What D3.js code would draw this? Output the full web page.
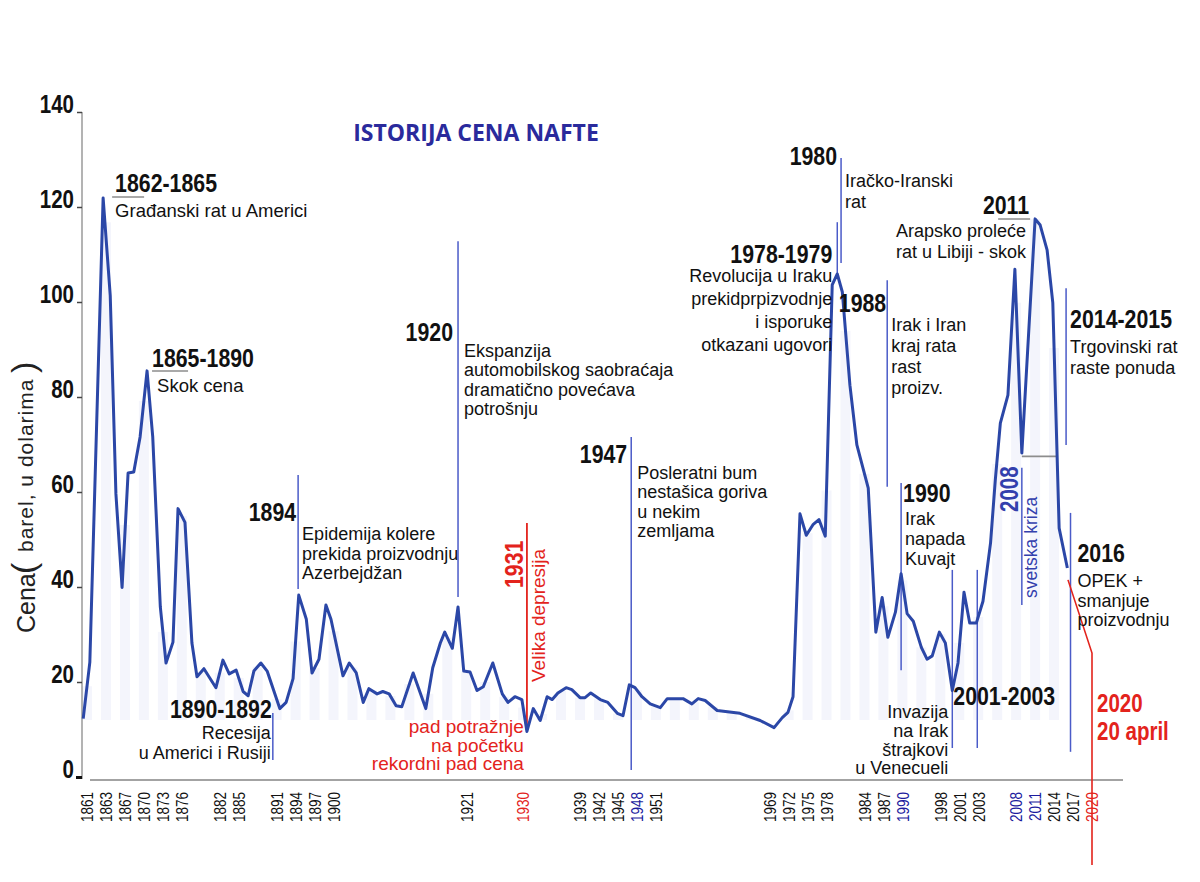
<!DOCTYPE html>
<html>
<head>
<meta charset="utf-8">
<title>Istorija cena nafte</title>
<script src="https://cdn.jsdelivr.net/npm/d3@7"></script>
<style>
  body { margin: 0; background: #fff; }
  svg { display: block; }
</style>
</head>
<body>
<div id="chart"></div>
<script>
// slots along the x axis (the axis is not linear in time)
var slotYears = [1861,1863,1867,1870,1873,1876,1879,1882,1885,1888,1891,1894,1897,1900,
  1903,1906,1909,1912,1915,1918,1921,1924,1927,1930,1933,1936,1939,1942,1945,1948,1951,
  1954,1957,1960,1963,1966,1969,1972,1975,1978,1981,1984,1987,1990,1994,1998,2001,2003,
  2005,2008,2011,2014,2017,2020];
var tickYears = [1861,1863,1867,1870,1873,1876,1882,1885,1891,1894,1897,1900,1921,1930,
  1939,1942,1945,1948,1951,1969,1972,1975,1978,1984,1987,1990,1998,2001,2003,2008,2011,
  2014,2017,2020];
var blueYears = [1948, 1990, 2008, 2011];
var redYears = [1930, 2020];
var yTicks = [0, 20, 40, 60, 80, 100, 120, 140];

// oil price (barel, u dolarima)
var priceYears = [
  1860.6,1861.3,1862.7,1863.9,1865.1,1866.4,1867.5,1868.4,1869.4,1870.5,
  1871.4,1872.6,1873.5,1874.6,1875.4,1876.5,1877.6,1878.4,1879.5,1881.4,
  1882.5,1883.5,1884.6,1885.7,1886.5,1887.4,1888.5,1889.5,1891.5,1892.5,
  1893.6,1894.5,1895.7,1896.6,1897.7,1898.8,1899.6,1901.5,1902.5,1903.6,
  1904.7,1905.6,1906.9,1907.8,1908.8,1909.9,1910.8,1912.6,1914.6,1915.7,
  1916.9,1917.6,1918.8,1919.7,1920.6,1921.6,1922.7,1923.7,1925.2,1926.7,
  1927.6,1928.7,1929.8,1930.6,1931.6,1932.7,1933.8,1934.6,1935.5,1936.8,
  1937.7,1939.0,1939.8,1940.7,1942.2,1943.4,1944.9,1945.8,1946.8,1947.7,
  1948.8,1950.1,1951.7,1952.8,1955.3,1956.7,1957.7,1958.8,1960.7,1964.3,
  1967.5,1969.7,1971.0,1971.9,1972.7,1973.8,1974.8,1975.9,1976.8,1977.8,
  1978.9,1979.7,1980.5,1981.7,1982.8,1984.6,1985.8,1986.8,1987.7,1988.9,
  1989.8,1991.0,1992.3,1994.0,1995.2,1996.3,1997.8,1998.8,1999.9,2000.8,
  2001.5,2002.1,2002.8,2003.5,2004.3,2004.8,2005.5,2006.7,2007.8,2008.9,
  2011.0,2011.8,2012.9,2013.8,2014.8,2016.1];
var prices = [
  12.3,24.2,121.9,101.4,59.6,39.9,64.0,64.2,71.6,85.5,
  71.6,35.8,24.0,28.4,56.5,53.6,28.2,21.1,22.8,18.8,
  24.6,21.7,22.5,18.0,17.1,22.3,24.0,22.3,14.4,15.7,
  20.7,38.3,33.2,21.9,24.8,36.2,33.2,21.3,24.0,21.9,
  15.7,18.6,17.5,18.0,17.5,15.0,14.8,21.9,14.4,23.0,
  28.2,30.5,27.1,35.8,22.3,22.1,18.2,19.0,24.0,17.5,
  15.7,16.9,16.3,9.6,14.4,11.9,16.9,16.3,17.7,18.8,
  18.4,16.7,16.7,17.7,16.3,15.7,13.4,12.9,19.4,18.8,
  16.9,15.4,14.6,16.5,16.5,15.4,16.5,16.1,14.0,13.4,
  11.9,10.4,12.5,13.6,16.9,55.4,50.9,53.2,54.2,50.7,
  103.6,105.9,102.1,82.5,69.9,60.8,30.5,37.8,29.4,34.7,
  42.8,34.4,32.8,27.3,24.8,25.5,30.5,28.2,18.2,24.0,
  38.9,32.4,32.4,37.0,49.3,62.5,74.5,80.4,106.9,68.2,
  117.5,116.2,110.9,99.8,52.4,44.0];

// 20 April 2020 collapse
var crashYears = [2016.2, 2020, 2020];
var crashPrices = [41.5, 26.1, -18.5];

// event markers: year, price top, price bottom
var blueEvents = [
  [1894.4, 63.6, 39.6], [1890.4, 13.5, 3.6], [1919.7, 112.8, 37.9], [1947.1, 71.6, 1.5],
  [1979.7, 116.8, 106.1], [1980.3, 130.3, 108.2], [1987.6, 104.6, 61.1], [1989.8, 61.9, 22.5],
  [1999.9, 43.6, 6.1], [2002.9, 43.6, 6.1], [2008.9, 65.1, 36.2], [2015.9, 102.9, 69.9],
  [2016.6, 55.6, 5.3]];
var redEvents = [[1930.6, 53.5, 9.7]];

var W = 1200, H = 882;
var BLUE = "#2b47a7", THIN = "#4a5bc8", NAVY = "#2a2a9c", RED = "#e3231c";

function hasFont(name) {
  var c = document.createElement("canvas").getContext("2d");
  c.font = "40px monospace";
  var a = c.measureText("1234567890 abcdefgh").width;
  c.font = "40px '" + name + "', monospace";
  var b = c.measureText("1234567890 abcdefgh").width;
  return a !== b;
}
var NARROW = hasFont("Liberation Sans Narrow");
var sx = NARROW ? 1 : 0.82;
var narrowFam = NARROW ? "'Liberation Sans Narrow', sans-serif" : "'Liberation Sans', Arial, sans-serif";
var bodyFam = "'Liberation Sans', Arial, sans-serif";

var svg = d3.select("#chart").append("svg")
  .attr("width", W)
  .attr("height", H)
  .style("background", "#fff");

var slotPos = d3.scaleLinear().domain([0, slotYears.length - 1]).range([87, 1092]);
var x = d3.scaleLinear()
  .domain(slotYears)
  .range(slotYears.map(function (d, i) { return slotPos(i); }));
var y = d3.scaleLinear().domain([0, 140]).range([777, 112]);

var series = priceYears.map(function (d, i) { return { year: d, price: prices[i] }; });

function priceAt(yr) {
  var i = d3.bisectLeft(priceYears, yr);
  if (i <= 0) return prices[0];
  if (i >= priceYears.length) return prices[prices.length - 1];
  var t = (yr - priceYears[i - 1]) / (priceYears[i] - priceYears[i - 1]);
  return prices[i - 1] + t * (prices[i] - prices[i - 1]);
}

// narrow text (condensed look), optionally rotated
function ntext(px, py, str, size, opt) {
  opt = opt || {};
  return svg.append("text")
    .attr("transform", "translate(" + px + "," + py + ")" + (opt.rotate ? " rotate(-90)" : "") + " scale(" + sx + ",1)")
    .attr("font-family", narrowFam)
    .attr("font-size", size)
    .attr("font-weight", opt.bold ? "bold" : "normal")
    .attr("text-anchor", opt.anchor || "start")
    .attr("fill", opt.fill || "#111")
    .text(str);
}
function btext(px, py, str, size, opt) {
  opt = opt || {};
  return svg.append("text")
    .attr("transform", "translate(" + px + "," + py + ")" + (opt.rotate ? " rotate(-90)" : ""))
    .attr("font-family", bodyFam)
    .attr("font-size", size)
    .attr("text-anchor", opt.anchor || "start")
    .attr("fill", opt.fill || "#111")
    .text(str);
}
function lines(px, py, arr, step, opt) {
  arr.forEach(function (s, i) { btext(px, py + i * step, s, (opt && opt.size) || 18, opt); });
}
function seg(x1, y1, x2, y2, color, w) {
  svg.append("line").attr("x1", x1).attr("y1", y1).attr("x2", x2).attr("y2", y2)
    .attr("stroke", color).attr("stroke-width", w);
}

// faint columns behind the line
svg.append("g").selectAll("rect")
  .data(slotYears.filter(function (d) { return d <= 2014; }))
  .enter().append("rect")
  .attr("x", function (d) { return x(d) - 5; })
  .attr("width", 10)
  .attr("y", function (d) { return y(priceAt(d)); })
  .attr("height", function (d) { return Math.max(0, y(12) - y(priceAt(d))); })
  .attr("fill", "#f4f5fc");

// y axis
seg(82, y(140), 82, 779, "#9a9a9a", 1.5);
var yAxis = svg.append("g")
  .attr("transform", "translate(82,0)")
  .call(d3.axisLeft(y).tickValues(yTicks).tickSize(5).tickPadding(0));
yAxis.select(".domain").remove();
yAxis.selectAll(".tick line").attr("stroke", "#444").attr("stroke-width", 1.5);
yAxis.selectAll(".tick").filter(function (d) { return d === 0; }).select("line")
  .attr("stroke", "#111").attr("stroke-width", 3).attr("x2", -6);
yAxis.selectAll(".tick text")
  .attr("x", null).attr("dy", null)
  .attr("transform", "translate(-8,0) scale(" + sx + ",1)")
  .attr("font-family", narrowFam)
  .attr("font-size", 25)
  .attr("font-weight", "bold")
  .attr("fill", "#111");

// x axis
seg(90, 780, x(2020) + 31, 780, "#a3a3a3", 2);
var xAxis = svg.append("g")
  .attr("transform", "translate(0,780)")
  .call(d3.axisBottom(x).tickValues(tickYears).tickSize(0).tickFormat(d3.format("d")));
xAxis.select(".domain").remove();
xAxis.selectAll(".tick text")
  .attr("y", null).attr("dy", "0.35em")
  .attr("transform", "translate(0,12) rotate(-90) scale(" + sx + ",1)")
  .attr("text-anchor", "end")
  .attr("font-family", narrowFam)
  .attr("font-size", 16.5)
  .attr("fill", function (d) {
    if (blueYears.indexOf(d) >= 0) return "#1c1c9e";
    if (redYears.indexOf(d) >= 0) return RED;
    return "#111";
  });

// axis title, bottom to top
btext(35, 633, "Cena", 25, { rotate: true, fill: "#222" });
btext(35, 574, "(", 34, { rotate: true, fill: "#222" });
btext(33, 552, "barel, u dolarima", 21, { rotate: true, fill: "#222" }).attr("letter-spacing", 1);
btext(35, 373, ")", 34, { rotate: true, fill: "#222" });

// title
svg.append("text")
  .attr("x", 476).attr("y", 141)
  .attr("text-anchor", "middle")
  .attr("font-family", "'Open Sans', sans-serif")
  .attr("font-weight", "bold")
  .attr("font-size", 23)
  .attr("fill", NAVY)
  .text("ISTORIJA CENA NAFTE");

// event markers
blueEvents.forEach(function (e) { seg(x(e[0]), y(e[1]), x(e[0]), y(e[2]), THIN, 1.5); });
redEvents.forEach(function (e) { seg(x(e[0]), y(e[1]), x(e[0]), y(e[2]), RED, 1.8); });
// gray marker at the 2008 trough
seg(x(2008.9), y(67.5), x(2014.5), y(67.5), "#8d8d8d", 1.8);

// price line
var line = d3.line().x(function (d) { return x(d.year); }).y(function (d) { return y(d.price); });
svg.append("path")
  .datum(series)
  .attr("d", line)
  .attr("fill", "none")
  .attr("stroke", BLUE)
  .attr("stroke-width", 3)
  .attr("stroke-linejoin", "round");

// 2020 drop
svg.append("path")
  .datum(crashYears.map(function (d, i) { return { year: d, price: crashPrices[i] }; }))
  .attr("d", line)
  .attr("fill", "none")
  .attr("stroke", RED)
  .attr("stroke-width", 1.6);

// ---- annotations ----
var lx;
lx = x(1862.7);
ntext(lx + 12, 192, "1862-1865", 26, { bold: true });
seg(lx + 9, 197, lx + 41, 197, "#8d8d8d", 1.5);
btext(lx + 12, 217, "Građanski rat u Americi", 18.5);

lx = x(1870.5);
ntext(lx + 5, 367, "1865-1890", 26, { bold: true });
seg(lx + 5, 371, lx + 41, 371, "#8d8d8d", 1.5);
btext(lx + 10, 392, "Skok cena", 18.5);

lx = x(1894.4);
ntext(lx - 2, 521, "1894", 26, { bold: true, anchor: "end" });
lines(lx + 4, 540, ["Epidemija kolere", "prekida proizvodnju", "Azerbejdžan"], 19.5);

lx = x(1890.4);
ntext(lx - 1, 718, "1890-1892", 26, { bold: true, anchor: "end" });
lines(lx - 2, 739, ["Recesija", "u Americi i Rusiji"], 20, { anchor: "end" });

lx = x(1919.7);
ntext(lx - 5, 341, "1920", 26, { bold: true, anchor: "end" });
lines(lx + 6, 357, ["Ekspanzija", "automobilskog saobraćaja", "dramatično povećava", "potrošnju"], 19.4);

lx = x(1930.6);
ntext(lx - 4, 588, "1931", 26, { bold: true, rotate: true, fill: RED });
btext(lx + 18, 682, "Velika depresija", 19, { rotate: true, fill: RED });
lines(lx - 3, 733, ["pad potražnje", "na početku", "rekordni pad cena"], 18.6, { anchor: "end", fill: RED, size: 19 });

lx = x(1947.1);
ntext(lx - 4, 463, "1947", 26, { bold: true, anchor: "end" });
lines(lx + 6, 479, ["Posleratni bum", "nestašica goriva", "u nekim", "zemljama"], 19.3);

lx = x(1979.7);
ntext(lx - 5, 263, "1978-1979", 26, { bold: true, anchor: "end" });
lines(lx - 5, 282, ["Revolucija u Iraku", "prekidprpizvodnje", "i isporuke", "otkazani ugovori"], 23, { anchor: "end" });

lx = x(1980.3);
ntext(lx - 4, 165, "1980", 26, { bold: true, anchor: "end" });
lines(lx + 4, 187, ["Iračko-Iranski", "rat"], 21);

lx = x(1987.6);
ntext(lx - 1, 312, "1988", 26, { bold: true, anchor: "end" });
lines(lx + 4, 331, ["Irak i Iran", "kraj rata", "rast", "proizv."], 21);

lx = x(1989.8);
ntext(lx + 2, 502, "1990", 26, { bold: true });
lines(lx + 4, 525, ["Irak", "napada", "Kuvajt"], 20);

lx = x(1999.9);
ntext(lx + 1, 705, "2001-2003", 26, { bold: true });
lines(lx - 4, 718, ["Invazija", "na Irak", "štrajkovi", "u Venecueli"], 18.8, { anchor: "end" });

lx = x(2008.9);
ntext(lx - 4, 512, "2008", 25, { bold: true, rotate: true, fill: "#3340ad" });
btext(lx + 15, 598, "svetska kriza", 17.5, { rotate: true, fill: "#3340ad" });

lx = x(2011);
ntext(lx - 6, 214, "2011", 26, { bold: true, anchor: "end" });
seg(lx - 37, 219, lx - 5, 219, "#8d8d8d", 1.5);
lines(lx - 9, 237, ["Arapsko proleće", "rat u Libiji - skok"], 21, { anchor: "end" });

lx = x(2015.9);
ntext(lx + 4, 328, "2014-2015", 26, { bold: true });
lines(lx + 4, 353, ["Trgovinski rat", "raste ponuda"], 21);

lx = x(2016.6);
ntext(lx + 7, 562, "2016", 26, { bold: true });
lines(lx + 7, 587, ["OPEK +", "smanjuje", "proizvodnju"], 19.5);

lx = x(2020);
ntext(lx + 5, 712, "2020", 25, { bold: true, fill: RED });
ntext(lx + 5, 740, "20 april", 25, { bold: true, fill: RED });
</script>
</body>
</html>
